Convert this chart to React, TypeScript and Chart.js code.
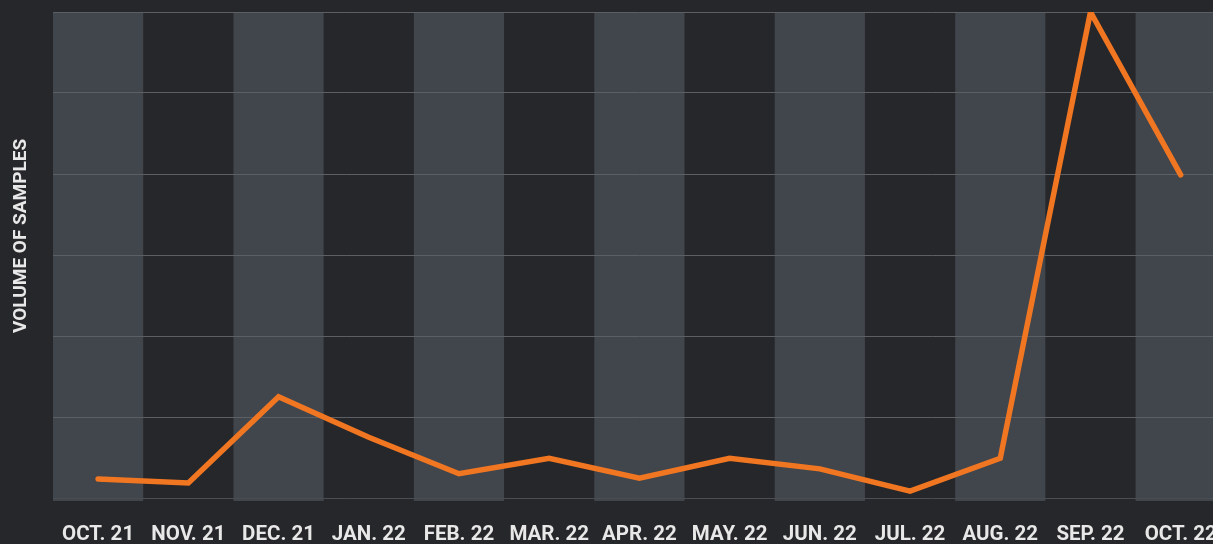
import React, { useEffect, useRef } from "react";
import { Chart, registerables } from "chart.js";

Chart.register(...registerables);

const categories = [
  "OCT. 21", "NOV. 21", "DEC. 21", "JAN. 22", "FEB. 22", "MAR. 22", "APR. 22",
  "MAY. 22", "JUN. 22", "JUL. 22", "AUG. 22", "SEP. 22", "OCT. 22",
];
const sampleVolumes = [23.5, 18.5, 125, 75, 30, 49, 24.5, 49, 36, 8.5, 49, 600, 399];
const yTitle = "VOLUME OF SAMPLES";

const BG = "#26272a";
const BAND = "#41454c";
const GRID = "#5c5f63";
const TEXT = "#e8e8e8";
const LINE = "#f07622";

const bandsPlugin = {
  id: "bands",
  beforeDraw(chart: any) {
    const { ctx, chartArea, scales } = chart;
    const x = scales.x;
    ctx.save();
    ctx.fillStyle = BG;
    ctx.fillRect(0, 0, chart.width, chart.height);
    const w = (x.right - x.left) / categories.length;
    for (let i = 0; i < categories.length; i++) {
      if (i % 2 !== 0) continue;
      const cx = x.getPixelForValue(i);
      ctx.fillStyle = BAND;
      ctx.fillRect(cx - w / 2, chartArea.top, w, chartArea.bottom - chartArea.top + 3);
    }
    // y title
    ctx.translate(21, 236);
    ctx.rotate(-Math.PI / 2);
    ctx.fillStyle = TEXT;
    ctx.font = "bold 19px Roboto";
    ctx.textAlign = "center";
    ctx.textBaseline = "middle";
    ctx.fillText(yTitle, 0, 0);
    ctx.restore();
  },
};

export default function App() {
  const ref = useRef<HTMLCanvasElement>(null);
  useEffect(() => {
    document.body.style.margin = "0";
    document.body.style.background = BG;
    const chart = new Chart(ref.current!, {
      type: "line",
      data: {
        labels: categories,
        datasets: [
          {
            data: sampleVolumes,
            borderColor: LINE,
            borderWidth: 5.5,
            pointRadius: 0,
            borderCapStyle: "round",
            borderJoinStyle: "miter",
            tension: 0,
          },
        ],
      },
      options: {
        responsive: false,
        animation: false,
        layout: { padding: { left: 53, top: 12, right: 7, bottom: 0 } },
        plugins: { legend: { display: false }, tooltip: { enabled: false } },
        scales: {
          x: {
            offset: true,
            grid: { display: false, drawTicks: false },
            border: { display: false },
            ticks: {
              color: TEXT,
              font: { family: "Roboto", weight: "bold", size: 20.5 },
              padding: 25,
              maxRotation: 0,
              autoSkip: false,
            },
            afterFit: (s: any) => {
              s.height = 46;
            },
          },
          y: {
            min: 0,
            max: 600,
            ticks: { display: false, stepSize: 100 },
            grid: {
              drawTicks: false,
              color: (c: any) => (c.index === 0 ? "#4a4d52" : GRID),
              lineWidth: 1,
            },
            border: { display: false },
          },
        },
      },
      plugins: [bandsPlugin],
    });
    return () => chart.destroy();
  }, []);
  return (
    <div style={{ position: "fixed", left: 0, top: 0, width: 1213, height: 544, overflow: "hidden", background: BG }}>
      <canvas ref={ref} width={1242} height={544} style={{ display: "block" }} />
    </div>
  );
}
